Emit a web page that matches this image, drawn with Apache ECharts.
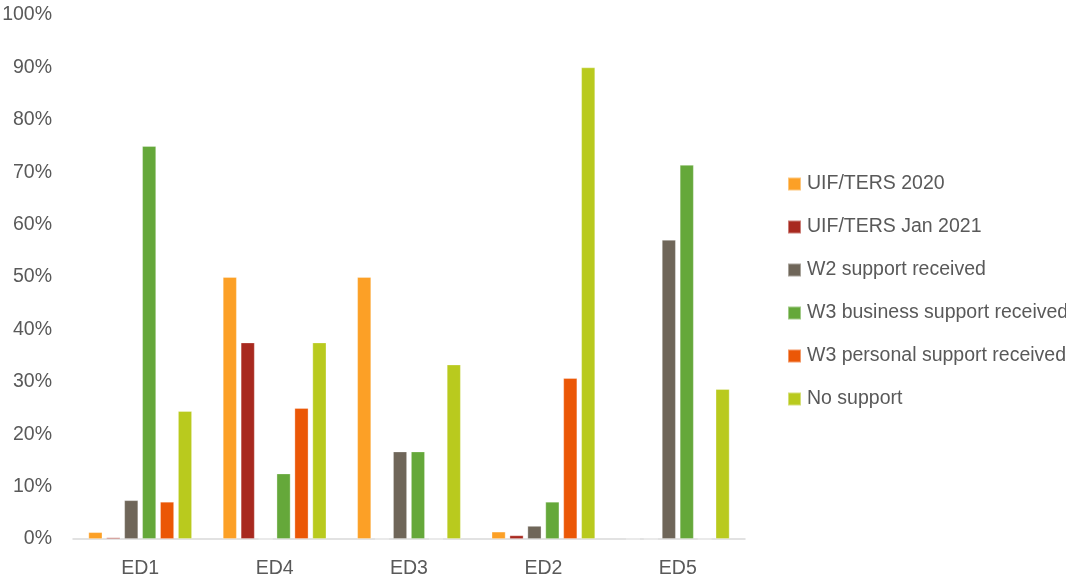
<!DOCTYPE html>
<html>
<head>
<meta charset="utf-8">
<script src="https://cdn.jsdelivr.net/npm/echarts@6/dist/echarts.min.js"></script>
<style>
html, body { margin: 0; padding: 0; background: #fff; }
#chart { width: 1066px; height: 579px; }
</style>
</head>
<body>
<div id="chart"></div>
<script>
// 分类
var categories = ['ED1', 'ED4', 'ED3', 'ED2', 'ED5'];
var seriesNames = ['UIF/TERS 2020', 'UIF/TERS Jan 2021', 'W2 support received',
    'W3 business support received', 'W3 personal support received', 'No support'];
// 各系列数值 (%)
var uif2020 = [1.3, 50, 50, 1.4, 0];
var uifJan2021 = [0.3, 37.5, 0, 0.7, 0];
var w2Support = [7.4, 0, 16.7, 2.5, 57.1];
var w3Business = [75, 12.5, 16.7, 7.1, 71.4];
var w3Personal = [7.1, 25, 0, 30.7, 0];
var noSupport = [24.4, 37.5, 33.3, 90, 28.6];
var colors = ['#FCA026', '#A8291F', '#6F6659', '#65A83A', '#EB5706', '#B9CA1E'];

var seriesData = [uif2020, uifJan2021, w2Support, w3Business, w3Personal, noSupport];

var myChart = echarts.init(document.getElementById('chart'));
var option = {
    animation: false,
    color: colors,
    textStyle: { fontFamily: '"Liberation Sans", Arial, sans-serif' },
    grid: { left: 73, right: 321, top: 15, bottom: 40, containLabel: false, outerBoundsMode: 'none' },
    legend: {
        orient: 'vertical',
        left: 782,
        top: 169,
        itemWidth: 13,
        itemHeight: 13,
        itemGap: 23,
        icon: 'rect',
        data: seriesNames,
        textStyle: { color: '#595959', fontSize: 19.5, lineHeight: 20, padding: [0, 0, 0, 1] }
    },
    xAxis: {
        type: 'category',
        data: categories,
        axisTick: { show: false },
        axisLine: { lineStyle: { color: '#D9D9D9', width: 1.5 } },
        axisLabel: { color: '#595959', fontSize: 19.5, margin: 20 }
    },
    yAxis: {
        type: 'value',
        min: 0,
        max: 100,
        interval: 10,
        splitLine: { show: false },
        axisLine: { show: false },
        axisTick: { show: false },
        axisLabel: { color: '#595959', fontSize: 19.5, margin: 21, formatter: '{value}%' }
    },
    series: seriesNames.map(function(name, i) {
        return {
            name: name,
            type: 'bar',
            data: seriesData[i],
            barWidth: 14,
            barGap: '28%',
            itemStyle: { borderColor: 'rgba(255,255,255,0.4)', borderWidth: 0.8 }
        };
    })
};
myChart.setOption(option);
</script>
</body>
</html>
